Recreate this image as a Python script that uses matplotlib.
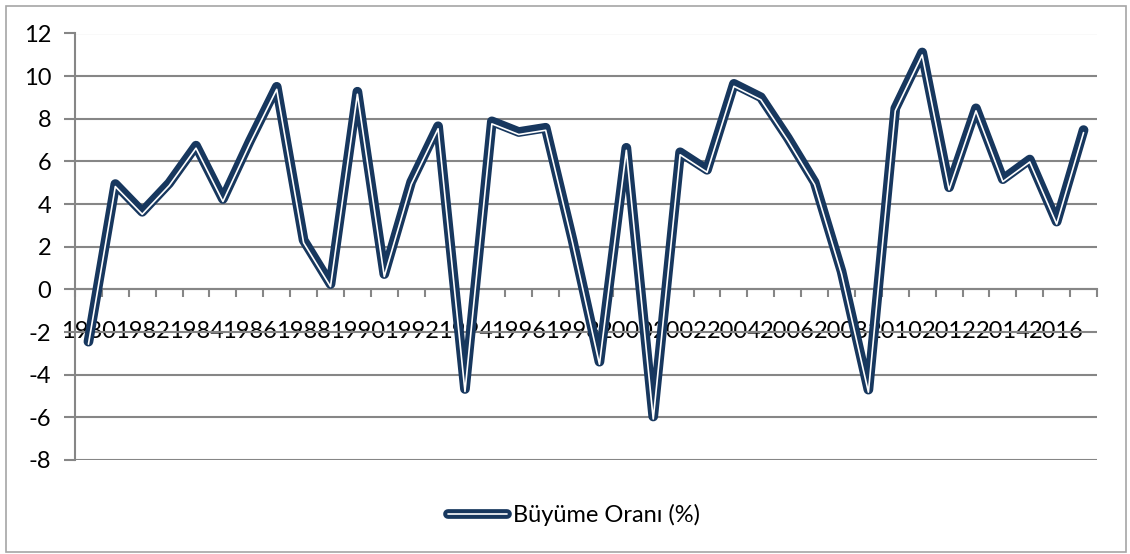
"""
Turkey GDP growth rate line chart
"""

import matplotlib
matplotlib.use('Agg')
import matplotlib.pyplot as plt
import matplotlib.patheffects as pe
from matplotlib.lines import Line2D
from matplotlib.patches import Rectangle
import numpy as np

# data
years = list(range(1980, 2018))
growth = [-2.45, 4.94, 3.64, 4.98, 6.74, 4.24, 6.95, 9.50, 2.31, 0.25,
          9.27, 0.72, 5.04, 7.65, -4.67, 7.88, 7.38, 7.58, 2.31, -3.39,
          6.64, -5.96, 6.43, 5.61, 9.64, 9.01, 7.11, 5.03, 0.85, -4.70,
          8.49, 11.11, 4.79, 8.49, 5.17, 6.09, 3.18, 7.47]
y_ticks = [-8, -6, -4, -2, 0, 2, 4, 6, 8, 10, 12]
series_label = 'Büyüme Oranı (%)'

# style
navy = '#17375e'
grid_gray = '#868686'
font_size = 17
plt.rcParams['font.family'] = ['Lato', 'DejaVu Sans']

# double line effect: thick navy stroke, thin white line shifted slightly down
double_line = [pe.Stroke(linewidth=7, foreground=navy),
               pe.Stroke(linewidth=1.2, foreground='white', offset=(0, -1.8))]

fig = plt.figure(figsize=(11.3, 5.54), dpi=100)
ax = fig.add_axes([75 / 1130, 1 - 460 / 554, 1022 / 1130, 426.5 / 554])

x = np.arange(len(years))
ax.plot(x, growth, color=navy, linewidth=7, solid_joinstyle='round',
        solid_capstyle='round', path_effects=double_line, zorder=3)

# axes
ax.set_xlim(-0.5, len(years) - 0.5)
ax.set_ylim(-8, 12)
ax.set_yticks(y_ticks)
ax.set_yticklabels([str(v) for v in y_ticks])
ax.yaxis.grid(True, color=grid_gray, linewidth=1.5)
ax.set_axisbelow(True)
ax.tick_params(axis='y', length=8, width=1.5, color=grid_gray, pad=9, labelsize=font_size)

ax.set_xticks(np.arange(len(years) + 1) - 0.5)
ax.set_xticklabels([])
ax.set_xticks(x[::2], minor=True)
ax.set_xticklabels([str(y) for y in years[::2]], minor=True)
ax.tick_params(axis='x', which='major', length=6, width=1.5, color=grid_gray)
ax.tick_params(axis='x', which='minor', length=0, pad=23, labelsize=font_size)

ax.spines['top'].set_visible(False)
ax.spines['right'].set_visible(False)
ax.spines['bottom'].set_position(('data', 0))
ax.spines['bottom'].set_color(grid_gray)
ax.spines['bottom'].set_linewidth(1.5)
ax.spines['left'].set_color(grid_gray)
ax.spines['left'].set_linewidth(1.5)

# legend
handle = Line2D([], [], color=navy, linewidth=7, solid_capstyle='round',
                path_effects=[pe.Stroke(linewidth=7, foreground=navy, capstyle='round'),
                              pe.Stroke(linewidth=1.2, foreground='white')])
fig.legend([handle], [series_label], loc='center', bbox_to_anchor=(0.508, 1 - 515 / 554),
           frameon=False, fontsize=font_size, handlelength=2.5, handletextpad=0.25)

# outer chart border
fig.patches.append(Rectangle((6 / 1130, 2 / 554), 1120 / 1130, 546 / 554,
                             transform=fig.transFigure, fill=False,
                             edgecolor='#a6a6a6', linewidth=1.2))

fig.savefig('out.png', dpi=100)
